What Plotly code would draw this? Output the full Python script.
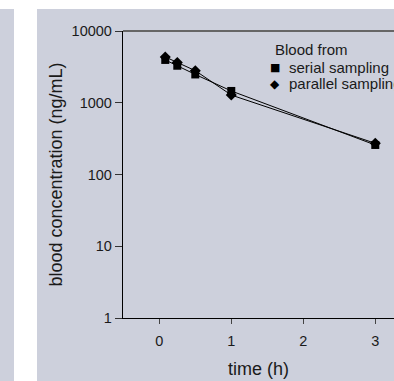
import plotly.graph_objects as go

# ---- data ----
time_h = [0.083, 0.25, 0.5, 1, 3]
serial_conc = [3950, 3280, 2480, 1460, 258]
parallel_conc = [4350, 3640, 2800, 1280, 272]
series_names = ["serial sampling", "parallel sampling"]
y_tickvals = [1, 10, 100, 1000, 10000]
y_ticktext = ["1", "10", "100", "1000", "10000"]
x_tickvals = [0, 1, 2, 3]

W, H = 394, 381
L, R, T, B = 123, 0, 31, 63
PW, PH = W - L - R, H - T - B
BG = "#CDD0DC"
FONT = "Liberation Sans, Arial, sans-serif"
TXT = "#1a1a1a"

def px(x):
    return (x - L) / PW

def py(y):
    return (H - B - y) / PH

fig = go.Figure()
for vals, sym, size in [(serial_conc, "square", 8), (parallel_conc, "diamond", 8.5)]:
    fig.add_trace(go.Scatter(x=time_h, y=vals, mode="lines+markers",
                             line=dict(color="black", width=1),
                             marker=dict(symbol=sym, size=size, color="black"),
                             showlegend=False, cliponaxis=False))

fig.update_layout(
    width=W, height=H,
    margin=dict(l=L, r=R, t=T, b=B, pad=0),
    paper_bgcolor=BG, plot_bgcolor=BG,
    font=dict(family=FONT, color=TXT, size=14),
    showlegend=False,
    xaxis=dict(range=[-0.504, 3.26], tickvals=x_tickvals, ticks="outside", ticklen=5,
               tickcolor="#444", tickwidth=1, showline=True, linecolor="black", linewidth=1.3,
               showgrid=False, zeroline=False, tickfont=dict(size=14.5), ticklabelstandoff=4,
               title=dict(text="time (h)", font=dict(size=18), standoff=14)),
    yaxis=dict(type="log", range=[0, 4], tickvals=y_tickvals, ticktext=y_ticktext,
               ticks="outside", ticklen=7, tickcolor="#333", showline=True,
               linecolor="black", linewidth=1.3, showgrid=False, zeroline=False,
               tickfont=dict(size=14.5),
               title=dict(text="blood concentration (ng/mL)", font=dict(size=18), standoff=4)),
)

# background layout shapes (white top band and white strip on the left)
fig.add_shape(type="rect", xref="paper", yref="paper", x0=px(-5), x1=px(W + 5), y0=py(9), y1=py(-5),
              fillcolor="white", line=dict(width=0), layer="below")
fig.add_shape(type="rect", xref="paper", yref="paper", x0=px(14), x1=px(37), y0=py(H + 5), y1=py(9),
              fillcolor="white", line=dict(width=0), layer="below")
# top border line
fig.add_shape(type="line", xref="paper", yref="paper", x0=0, x1=1, y0=1, y1=1,
              line=dict(color="#666666", width=2))

# legend (text)
fig.add_annotation(x=px(273), y=py(49), xref="paper", yref="paper", text="Blood from",
                   showarrow=False, xanchor="left", yanchor="middle", font=dict(size=15))
for i, (name, glyph, gsize) in enumerate([(series_names[0], "■", 11), (series_names[1], "◆", 12)]):
    yy = py(67 + i * 16.5)
    fig.add_annotation(x=px(275), y=yy, xref="paper", yref="paper", text=glyph,
                       showarrow=False, xanchor="center", yanchor="middle",
                       font=dict(size=gsize, family="DejaVu Sans", color="black"))
    fig.add_annotation(x=px(287), y=yy, xref="paper", yref="paper", text=name,
                       showarrow=False, xanchor="left", yanchor="middle", font=dict(size=15))

fig.write_html("out.html", config={"displayModeBar": False},
               post_script="document.body.style.margin='0';document.body.style.overflow='hidden';"
                           "document.documentElement.style.overflow='hidden';")
